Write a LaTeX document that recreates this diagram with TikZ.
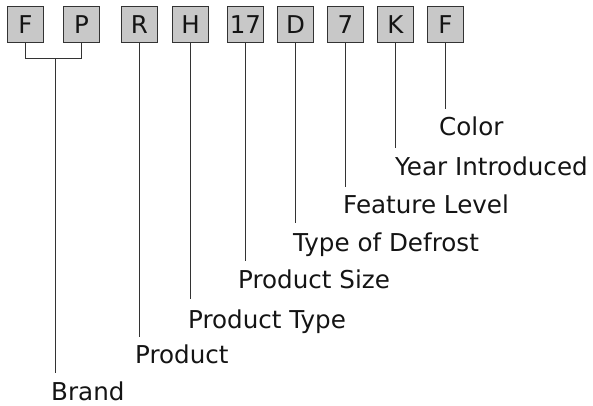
\documentclass[tikz,border=0pt]{standalone}
\usepackage{fontspec}
\setmainfont{DejaVu Sans}
\definecolor{boxfill}{HTML}{C8C8C8}
\definecolor{edge}{HTML}{333333}
\definecolor{ink}{HTML}{141414}
\begin{document}
\begin{tikzpicture}[x=1pt,y=-1pt,
  letterbox/.style={draw=edge,fill=boxfill,line width=1pt,minimum width=36pt,minimum height=36pt,inner sep=0pt,text=ink,font=\fontsize{24.5}{28}\selectfont},
  lbl/.style={anchor=base west,inner sep=0pt,text=ink,font=\fontsize{24.6}{28}\selectfont},
  conn/.style={draw=edge,line width=1pt}]
\useasboundingbox (0,0) rectangle (593,405);
% boxes
\node[letterbox] (bF) at (25.5,24.5) {F};
\node[letterbox] (bP) at (81.5,24.5) {P};
\node[letterbox] (bR) at (139.5,24.5) {R};
\node[letterbox] (bH) at (190.5,24.5) {H};
\node[letterbox] (b17) at (245.5,24.5) {17};
\node[letterbox] (bD) at (295.5,24.5) {D};
\node[letterbox] (b7) at (345.5,24.5) {7};
\node[letterbox] (bK) at (395.5,24.5) {K};
\node[letterbox] (bC) at (445.5,24.5) {F};
% labels
\node[lbl] (tColor) at (439,135) {Color};
\node[lbl] (tYear) at (395,175) {Year Introduced};
\node[lbl] (tFeat) at (343,213) {Feature Level};
\node[lbl] (tDef) at (293,251) {Type of Defrost};
\node[lbl] (tSize) at (238,288) {Product Size};
\node[lbl] (tType) at (188,328) {Product Type};
\node[lbl] (tProd) at (135,363) {Product};
\node[lbl] (tBrand) at (51,400) {Brand};
% connector ends
\coordinate (eC) at (445.5,109);
\coordinate (eK) at (395.5,148);
\coordinate (e7) at (345.5,187);
\coordinate (eD) at (295.5,223);
\coordinate (e17) at (245.5,261);
\coordinate (eH) at (190.5,299);
\coordinate (eR) at (139.5,337);
\coordinate (jF) at (25.5,58.5);
\coordinate (jP) at (81.5,58.5);
\coordinate (jM) at (55.5,58.5);
\coordinate (eB) at (55.5,373);
% connectors
\draw[conn] (bC.south) -- (eC);
\draw[conn] (bK.south) -- (eK);
\draw[conn] (b7.south) -- (e7);
\draw[conn] (bD.south) -- (eD);
\draw[conn] (b17.south) -- (e17);
\draw[conn] (bH.south) -- (eH);
\draw[conn] (bR.south) -- (eR);
\draw[conn] (bF.south) -- (jF) -- (jP) -- (bP.south);
\draw[conn] (jM) -- (eB);
\end{tikzpicture}
\end{document}
